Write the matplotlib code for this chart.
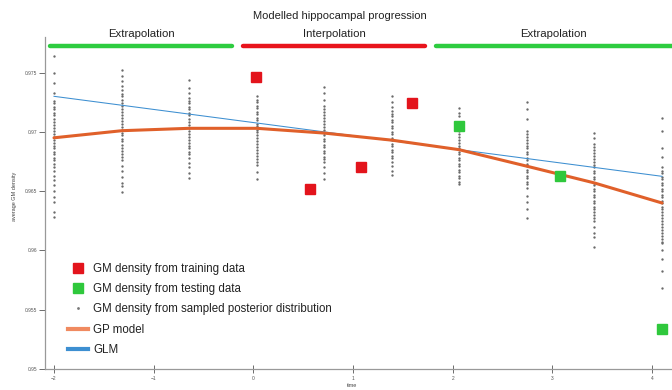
import matplotlib
matplotlib.use("Agg")
import matplotlib.pyplot as plt
import matplotlib.transforms as mtransforms
from matplotlib.lines import Line2D

plt.rcParams['font.family'] = ['Liberation Sans', 'DejaVu Sans']

# time points of the sampled posterior columns
sample_times = [-2.0, -1.318, -0.645, 0.037, 0.709, 1.391, 2.063, 2.746, 3.418, 4.10]

# sampled posterior GM density, one list per time point
samples = [
    [0.9764, 0.9750, 0.9741, 0.9733, 0.9726, 0.9724, 0.9721, 0.9719, 0.9716, 0.9714, 0.9711, 0.9708,
     0.9706, 0.9703, 0.9701, 0.9698, 0.9696, 0.9693, 0.9691, 0.9688, 0.9686, 0.9683, 0.9681, 0.9678,
     0.9676, 0.9673, 0.9670, 0.9667, 0.9663, 0.9659, 0.9655, 0.9650, 0.9645, 0.9641, 0.9632, 0.9628],
    [0.9752, 0.9747, 0.9743, 0.9739, 0.9735, 0.9732, 0.9730, 0.9727, 0.9724, 0.9722, 0.9719, 0.9717,
     0.9714, 0.9712, 0.9709, 0.9707, 0.9704, 0.9702, 0.9699, 0.9697, 0.9694, 0.9692, 0.9689, 0.9686,
     0.9684, 0.9681, 0.9679, 0.9676, 0.9671, 0.9667, 0.9662, 0.9657, 0.9654, 0.9649],
    [0.9744, 0.9737, 0.9733, 0.9729, 0.9726, 0.9724, 0.9721, 0.9719, 0.9716, 0.9714, 0.9711, 0.9708,
     0.9706, 0.9703, 0.9701, 0.9698, 0.9696, 0.9693, 0.9691, 0.9688, 0.9686, 0.9683, 0.9681, 0.9678,
     0.9674, 0.9670, 0.9665, 0.9661],
    [0.9730, 0.9727, 0.9725, 0.9722, 0.9720, 0.9717, 0.9715, 0.9712, 0.9710, 0.9707, 0.9705, 0.9702,
     0.9700, 0.9697, 0.9695, 0.9692, 0.9690, 0.9687, 0.9685, 0.9682, 0.9680, 0.9677, 0.9675, 0.9672,
     0.9666, 0.9660],
    [0.9738, 0.9733, 0.9727, 0.9722, 0.9719, 0.9717, 0.9714, 0.9712, 0.9709, 0.9707, 0.9704, 0.9702,
     0.9699, 0.9697, 0.9694, 0.9692, 0.9689, 0.9687, 0.9684, 0.9682, 0.9679, 0.9677, 0.9675, 0.9670,
     0.9665, 0.9660],
    [0.9730, 0.9725, 0.9721, 0.9718, 0.9715, 0.9713, 0.9710, 0.9708, 0.9705, 0.9703, 0.9700, 0.9698,
     0.9695, 0.9693, 0.9690, 0.9688, 0.9685, 0.9683, 0.9680, 0.9678, 0.9675, 0.9671, 0.9667, 0.9664],
    [0.9720, 0.9716, 0.9713, 0.9708, 0.9706, 0.9703, 0.9701, 0.9698, 0.9696, 0.9693, 0.9691, 0.9688,
     0.9686, 0.9683, 0.9681, 0.9678, 0.9676, 0.9673, 0.9671, 0.9668, 0.9666, 0.9663, 0.9661, 0.9658,
     0.9656],
    [0.9725, 0.9719, 0.9711, 0.9701, 0.9698, 0.9696, 0.9693, 0.9691, 0.9688, 0.9686, 0.9683, 0.9681,
     0.9678, 0.9676, 0.9673, 0.9671, 0.9668, 0.9666, 0.9663, 0.9661, 0.9658, 0.9656, 0.9653, 0.9646,
     0.9641, 0.9635, 0.9627],
    [0.9699, 0.9695, 0.9690, 0.9687, 0.9685, 0.9682, 0.9680, 0.9677, 0.9675, 0.9672, 0.9670, 0.9667,
     0.9665, 0.9662, 0.9660, 0.9657, 0.9655, 0.9652, 0.9650, 0.9647, 0.9645, 0.9642, 0.9640, 0.9637,
     0.9635, 0.9632, 0.9630, 0.9627, 0.9625, 0.9620, 0.9615, 0.9611, 0.9603],
    [0.9712, 0.9701, 0.9686, 0.9679, 0.9670, 0.9667, 0.9665, 0.9662, 0.9660, 0.9657, 0.9655, 0.9652,
     0.9650, 0.9647, 0.9645, 0.9642, 0.9640, 0.9637, 0.9635, 0.9632, 0.9630, 0.9627, 0.9625, 0.9622,
     0.9620, 0.9617, 0.9615, 0.9612, 0.9610, 0.9607, 0.9606, 0.9600, 0.9593, 0.9583, 0.9568],
]

# GP model mean at the sample times
gp_mean = [0.9695, 0.9701, 0.9703, 0.9703, 0.9699, 0.9693, 0.9685, 0.9671, 0.9657, 0.9640]

# GLM straight line (end points)
glm_t = [-2.0, 4.10]
glm_y = [0.9730, 0.96625]

# observed GM density
train_t = [0.027, 0.569, 1.08, 1.592]
train_y = [0.9746, 0.9652, 0.9670, 0.9724]
test_t = [2.063, 3.077, 4.10]
test_y = [0.9705, 0.9663, 0.9534]

# extrapolation / interpolation bands along the top
band_labels = ['Extrapolation', 'Interpolation', 'Extrapolation']
band_spans = [(-2.04, -0.21), (-0.10, 1.72), (1.83, 4.30)]
band_colors = ['#2ecc40', '#e8141c', '#2ecc40']

fig = plt.figure(figsize=(6.72, 3.9), dpi=100)
ax = fig.add_axes([0.067, 0.054, 0.933, 0.851])

for t, vals in zip(sample_times, samples):
    ax.plot([t] * len(vals), vals, linestyle='none', marker='o', markersize=1.7,
            color='#6a6a6a', markeredgewidth=0)

ax.plot(glm_t, glm_y, color='#3d8fd1', lw=0.75, zorder=3)
ax.plot(sample_times, gp_mean, color='#e0602a', lw=2.2, zorder=4, solid_capstyle='round')

ax.plot(train_t, train_y, linestyle='none', marker='s', markersize=7.5, color='#e3141c', zorder=5)
ax.plot(test_t, test_y, linestyle='none', marker='s', markersize=7.5, color='#2fc83c', zorder=5)

ax.set_xlim(-2.09, 4.20)
ax.set_ylim(0.95, 0.978)
ax.set_xticks([-2, -1, 0, 1, 2, 3, 4])
ax.set_yticks([0.95, 0.955, 0.96, 0.965, 0.97, 0.975])
ax.set_yticklabels(['0.95', '0.955', '0.96', '0.965', '0.97', '0.975'])
ax.tick_params(axis='x', direction='inout', length=6, width=0.6, labelsize=3.5, pad=2, colors='#555555')
ax.tick_params(axis='y', direction='out', length=4, width=0.6, labelsize=3.5, pad=1.5, colors='#555555')
for s in ['top', 'right']:
    ax.spines[s].set_visible(False)
for s in ['left', 'bottom']:
    ax.spines[s].set_color('#999999')
    ax.spines[s].set_linewidth(0.9)

# bands along the top of the axes
trans = mtransforms.blended_transform_factory(ax.transData, ax.transAxes)
for label, (a, b), c in zip(band_labels, band_spans, band_colors):
    ax.plot([a, b], [0.973, 0.973], transform=trans, color=c, lw=3.2,
            solid_capstyle='round', clip_on=False)
    ax.text((a + min(b, 4.2)) / 2, 1.008, label, transform=trans,
            ha='center', va='center', fontsize=8.2, color='#222222')

fig.text(0.506, 0.958, 'Modelled hippocampal progression', ha='center', va='center',
         fontsize=8, color='#222222')
fig.text(0.524, 0.012, 'time', ha='center', va='center', fontsize=4, color='#444444')
fig.text(0.022, 0.497, 'average GM density', ha='center', va='center', rotation=90,
         fontsize=4, color='#444444')

handles = [
    Line2D([], [], linestyle='none', marker='s', markersize=6.5, color='#e3141c'),
    Line2D([], [], linestyle='none', marker='s', markersize=6.5, color='#2fc83c'),
    Line2D([], [], linestyle='none', marker='o', markersize=2, color='#777777', markeredgewidth=0),
    Line2D([], [], color='#f08a60', lw=3),
    Line2D([], [], color='#3d8fd1', lw=3),
]
labels = ['GM density from training data', 'GM density from testing data',
          'GM density from sampled posterior distribution', 'GP model', 'GLM']
ax.legend(handles, labels, loc='upper left', bbox_to_anchor=(0.036, 0.32), frameon=False,
          fontsize=8.3, handlelength=1.75, handletextpad=0.45, labelspacing=0.72,
          borderpad=0, borderaxespad=0, labelcolor='#222222')

fig.savefig('out.png', dpi=100)
